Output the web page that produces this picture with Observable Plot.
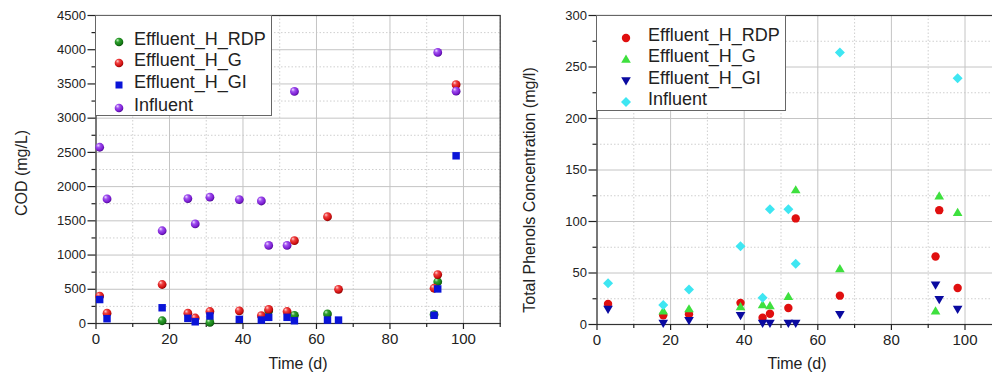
<!DOCTYPE html>
<html>
<head>
<meta charset="utf-8">
<script src="https://cdn.jsdelivr.net/npm/d3@7"></script>
<script src="https://cdn.jsdelivr.net/npm/@observablehq/plot@0.6"></script>
<style>
  body { margin:0; width:992px; height:376px; overflow:hidden; position:relative; background:#fff;
         font-family:"Liberation Sans", Arial, sans-serif; color:#222; }
  .abs { position:absolute; }
  .abs svg { max-width:none !important; }
  .lab { position:absolute; font-size:16px; white-space:nowrap; color:#222; }
  .legend { position:absolute; background:#fff; border:1px solid #666; box-sizing:border-box; }
  .row { position:absolute; font-size:18px; line-height:18px; white-space:nowrap; color:#222; }
  .sym { position:absolute; }
</style>
</head>
<body>
<svg width="0" height="0" style="position:absolute">
  <defs>
    <radialGradient id="gPurple" cx="0.42" cy="0.38" r="0.62" fx="0.32" fy="0.28">
      <stop offset="0" stop-color="#f0e0ff"/><stop offset="0.35" stop-color="#a050f0"/>
      <stop offset="0.8" stop-color="#7a1cd0"/><stop offset="1" stop-color="#4a0890"/>
    </radialGradient>
    <radialGradient id="gRed" cx="0.42" cy="0.38" r="0.62" fx="0.32" fy="0.28">
      <stop offset="0" stop-color="#ffd0d0"/><stop offset="0.35" stop-color="#f04040"/>
      <stop offset="0.8" stop-color="#d01010"/><stop offset="1" stop-color="#8a0000"/>
    </radialGradient>
    <radialGradient id="gGreen" cx="0.42" cy="0.38" r="0.62" fx="0.32" fy="0.28">
      <stop offset="0" stop-color="#c8f0c8"/><stop offset="0.35" stop-color="#30a030"/>
      <stop offset="0.8" stop-color="#157a15"/><stop offset="1" stop-color="#064a06"/>
    </radialGradient>
  </defs>
</svg>

<div id="left" class="abs" style="left:0;top:0;width:505px"></div>
<div id="right" class="abs" style="left:500px;top:0;width:510px"></div>

<div class="lab" style="left:22px;top:173px;transform:translate(-50%,-50%) rotate(-90deg)">COD (mg/L)</div>
<div class="lab" style="left:298px;top:364px;transform:translate(-50%,-50%)">Time (d)</div>
<div class="lab" style="left:530px;top:190px;transform:translate(-50%,-50%) rotate(-90deg)">Total Phenols Concentration (mg/l)</div>
<div class="lab" style="left:797px;top:364px;transform:translate(-50%,-50%)">Time (d)</div>

<div id="legL" class="legend" style="left:95px;top:15px;width:177px;height:101px"></div>
<div id="legR" class="legend" style="left:596px;top:15px;width:190px;height:96px"></div>

<script>
// ---------------- DATA ----------------
// Left panel: COD (mg/L)
const codDaysRDP = [18, 31, 47, 54, 63, 92, 93];
const codRDP     = [40, 15, 185, 120, 140, 130, 610];
const codDaysG   = [1, 3, 18, 25, 27, 31, 39, 45, 47, 52, 54, 63, 66, 92, 93, 98];
const codG       = [400, 150, 570, 150, 80, 175, 185, 115, 205, 175, 1210, 1560, 500, 515, 715, 3490];
const codDaysGI  = [1, 3, 18, 25, 27, 31, 39, 45, 47, 52, 54, 63, 66, 92, 93, 98];
const codGI      = [350, 70, 230, 75, 25, 110, 60, 50, 90, 90, 40, 50, 50, 120, 505, 2450];
const codDaysInf = [1, 3, 18, 25, 27, 31, 39, 45, 47, 52, 54, 93, 98];
const codInf     = [2575, 1820, 1355, 1825, 1455, 1845, 1810, 1790, 1140, 1140, 3390, 3960, 3395];

// Right panel: Total phenols (mg/l)
const phDaysRDP = [3, 18, 25, 39, 45, 47, 52, 54, 66, 92, 93, 98];
const phRDP     = [20, 9, 10, 21, 6.5, 10.5, 16, 103, 28, 66, 111, 35.5];
const phDaysG   = [18, 25, 39, 45, 47, 52, 54, 66, 92, 93, 98];
const phG       = [13.5, 15.5, 17.5, 19.5, 18.5, 27.5, 131, 54.5, 13.5, 125, 109];
const phDaysGI  = [3, 18, 25, 39, 45, 47, 52, 54, 66, 92, 93, 98];
const phGI      = [14.5, 1, 3.5, 8.5, 1, 1, 1, 1, 9.5, 38, 24, 14.5];
const phDaysInf = [3, 18, 25, 39, 45, 47, 52, 54, 66, 98];
const phInf     = [40, 19, 34, 76, 26, 112, 112, 59, 264, 239];

const xMajor = [0, 20, 40, 60, 80, 100];
const xMinor = [10, 30, 50, 70, 90, 110];
const codMajor = [0, 500, 1000, 1500, 2000, 2500, 3000, 3500, 4000, 4500];
const codMinor = [250, 750, 1250, 1750, 2250, 2750, 3250, 3750, 4250];
const phMajor = [0, 50, 100, 150, 200, 250, 300];
const phMinor = [25, 75, 125, 175, 225, 275];

const codLegend = ["Effluent_H_RDP", "Effluent_H_G", "Effluent_H_GI", "Influent"];
const phLegend  = ["Effluent_H_RDP", "Effluent_H_G", "Effluent_H_GI", "Influent"];

// ---------------- HELPERS ----------------
const rows = (days, vals) => days.map((d, i) => ({d, v: vals[i]}));
const triUp = {draw(ctx, size) { const r = Math.sqrt(size / Math.PI);
  ctx.moveTo(0, -r * 1.05); ctx.lineTo(r * 1.15, r * 0.9); ctx.lineTo(-r * 1.15, r * 0.9); ctx.closePath(); }};
const triDown = {draw(ctx, size) { const r = Math.sqrt(size / Math.PI);
  ctx.moveTo(0, r * 1.05); ctx.lineTo(r * 1.15, -r * 0.9); ctx.lineTo(-r * 1.15, -r * 0.9); ctx.closePath(); }};
const diamond = {draw(ctx, size) { const r = Math.sqrt(size / Math.PI) * 1.25;
  ctx.moveTo(0, -r); ctx.lineTo(r, 0); ctx.lineTo(0, r); ctx.lineTo(-r, 0); ctx.closePath(); }};

const gridMinor = {stroke: "#cfcfcf", strokeOpacity: 1, strokeDasharray: "1.5,2"};
const gridMajor = {stroke: "#c4c4c4", strokeOpacity: 1};
const fmt = d => String(d);

function axes(yMajor, yMinor) {
  return [
    Plot.gridX(xMinor, gridMinor),
    Plot.gridY(yMinor, gridMinor),
    Plot.gridX(xMajor, gridMajor),
    Plot.gridY(yMajor, gridMajor),
    Plot.frame({stroke: "#333", strokeWidth: 1.2}),
    Plot.axisX(xMajor, {tickSize: 6, tickPadding: 4, fontSize: 15, label: null, tickFormat: fmt, stroke: "#222", strokeWidth: 1.2, fill: "#222"}),
    Plot.axisX(xMinor, {tickSize: 4, tickFormat: () => "", label: null, stroke: "#222", strokeWidth: 1.2}),
    Plot.axisY(yMajor, {tickSize: 8, tickPadding: 2, fontSize: 13, label: null, tickFormat: fmt, stroke: "#222", strokeWidth: 1.2, fill: "#222"}),
    Plot.axisY(yMinor, {tickSize: 4, tickFormat: () => "", label: null, stroke: "#222", strokeWidth: 1.2})
  ];
}

const plotStyle = {fontFamily: "'Liberation Sans', Arial, sans-serif", background: "transparent", color: "#222", maxWidth: "none"};

// ---------------- LEFT ----------------
const left = Plot.plot({
  width: 505, height: 376,
  marginLeft: 95.5, marginRight: 5.3, marginTop: 15, marginBottom: 53,
  style: plotStyle,
  x: {domain: [0, 110]},
  y: {domain: [0, 4500]},
  marks: [
    ...axes(codMajor, codMinor),
    Plot.dot(rows(codDaysRDP, codRDP), {x: "d", y: "v", r: 4.4, fill: "url(#gGreen)"}),
    Plot.dot(rows(codDaysG, codG), {x: "d", y: "v", r: 4.4, fill: "url(#gRed)"}),
    Plot.dot(rows(codDaysGI, codGI), {x: "d", y: "v", r: 4.2, symbol: "square", fill: "#0a14d8"}),
    Plot.dot(rows(codDaysInf, codInf), {x: "d", y: "v", r: 4.4, fill: "url(#gPurple)"})
  ]
});
document.getElementById("left").appendChild(left);

// ---------------- RIGHT ----------------
const right = Plot.plot({
  width: 510, height: 376,
  marginLeft: 96.5, marginRight: 8.7, marginTop: 15, marginBottom: 52,
  style: plotStyle,
  x: {domain: [0, 110]},
  y: {domain: [0, 300]},
  marks: [
    ...axes(phMajor, phMinor),
    Plot.dot(rows(phDaysRDP, phRDP), {x: "d", y: "v", r: 4.2, fill: "#e00f0f"}),
    Plot.dot(rows(phDaysG, phG), {x: "d", y: "v", r: 4.2, symbol: triUp, fill: "#3ee03e"}),
    Plot.dot(rows(phDaysGI, phGI), {x: "d", y: "v", r: 4.2, symbol: triDown, fill: "#0a0aa0"}),
    Plot.dot(rows(phDaysInf, phInf), {x: "d", y: "v", r: 4.0, symbol: diamond, fill: "#3ee6f2"})
  ]
});
document.getElementById("right").appendChild(right);

// ---------------- LEGENDS ----------------
function legendSym(kind, color) {
  const s = 12, c = 6;
  let shape = "";
  if (kind === "sphere") shape = `<circle cx="${c}" cy="${c}" r="4.3" fill="${color}"/>`;
  else if (kind === "circle") shape = `<circle cx="${c}" cy="${c}" r="4.2" fill="${color}"/>`;
  else if (kind === "square") shape = `<rect x="${c-3.5}" y="${c-3.5}" width="7" height="7" fill="${color}"/>`;
  else if (kind === "up") shape = `<path d="M${c},${c-4.4}L${c+4.8},${c+3.8}L${c-4.8},${c+3.8}Z" fill="${color}"/>`;
  else if (kind === "down") shape = `<path d="M${c},${c+4.4}L${c+4.8},${c-3.8}L${c-4.8},${c-3.8}Z" fill="${color}"/>`;
  else if (kind === "diamond") shape = `<path d="M${c},${c-5}L${c+5},${c}L${c},${c+5}L${c-5},${c}Z" fill="${color}"/>`;
  return `<svg width="${s}" height="${s}">${shape}</svg>`;
}
const legL = document.getElementById("legL");
const lSyms = [["sphere", "url(#gGreen)"], ["sphere", "url(#gRed)"], ["square", "#0a14d8"], ["sphere", "url(#gPurple)"]];
const lRowY = [24, 45, 67, 90];
codLegend.forEach((t, i) => {
  legL.insertAdjacentHTML("beforeend",
    `<div class="sym" style="left:${23 - 6}px;top:${lRowY[i] - 6}px">${legendSym(lSyms[i][0], lSyms[i][1])}</div>` +
    `<div class="row" style="left:38px;top:${lRowY[i] - 10}px">${t}</div>`);
});
const legR = document.getElementById("legR");
const rSyms = [["circle", "#e00f0f"], ["up", "#3ee03e"], ["down", "#0a0aa0"], ["diamond", "#3ee6f2"]];
const rRowY = [20, 41, 63, 84];
phLegend.forEach((t, i) => {
  legR.insertAdjacentHTML("beforeend",
    `<div class="sym" style="left:${29 - 6}px;top:${rRowY[i] - 6}px">${legendSym(rSyms[i][0], rSyms[i][1])}</div>` +
    `<div class="row" style="left:51px;top:${rRowY[i] - 10}px">${t}</div>`);
});
</script>
</body>
</html>
